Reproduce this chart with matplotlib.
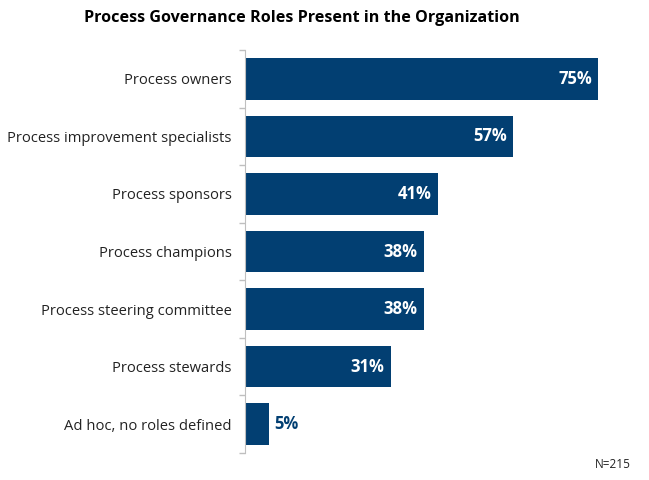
import matplotlib.pyplot as plt

plt.rcParams['font.family'] = ['Open Sans', 'DejaVu Sans']

roles = ["Process owners", "Process improvement specialists", "Process sponsors",
         "Process champions", "Process steering committee", "Process stewards",
         "Ad hoc, no roles defined"]
pct = [75, 57, 41, 38, 38, 31, 5]

bar_color = '#023F72'
W, H = 649, 480

fig = plt.figure(figsize=(W / 100, H / 100), dpi=100)
# axes placed in pixel coords: left 245, top 50, bottom 453
ax = fig.add_axes([245 / W, 1 - 453 / H, 376.6 / W, 403 / H])

y = list(range(len(roles)))
ax.barh(y, pct, height=0.72, color=bar_color)
ax.set_xlim(0, 80)
ax.set_ylim(len(roles) - 0.5, -0.5)

for i, v in enumerate(pct):
    if v > 10:
        ax.annotate(f"{v}%", (v, i), xytext=(-4.5, 0), textcoords='offset points',
                    ha='right', va='center', color='white', fontsize=12, fontweight='bold')
    else:
        ax.annotate(f"{v}%", (v, i), xytext=(4, 0), textcoords='offset points',
                    ha='left', va='center', color=bar_color, fontsize=12, fontweight='bold')

ax.set_yticks(y)
ax.set_yticklabels(roles, fontsize=10.6, color='#222222')
ax.tick_params(axis='y', which='major', length=0, pad=9.5)
ax.set_yticks([i - 0.5 for i in range(len(roles) + 1)], minor=True)
ax.tick_params(axis='y', which='minor', length=4, color='#BFBFBF', width=1)
ax.set_xticks([])

for s in ['top', 'right', 'bottom']:
    ax.spines[s].set_visible(False)
ax.spines['left'].set_color('#BFBFBF')

fig.text(302 / W, 1 - 18 / H, "Process Governance Roles Present in the Organization",
         ha='center', va='center', fontsize=11.6, fontweight='bold', color='black')
fig.text(631 / W, 1 - 465 / H, "N=215", ha='right', va='center', fontsize=8.5, color='#222222')

fig.savefig('out.png', dpi=100)
